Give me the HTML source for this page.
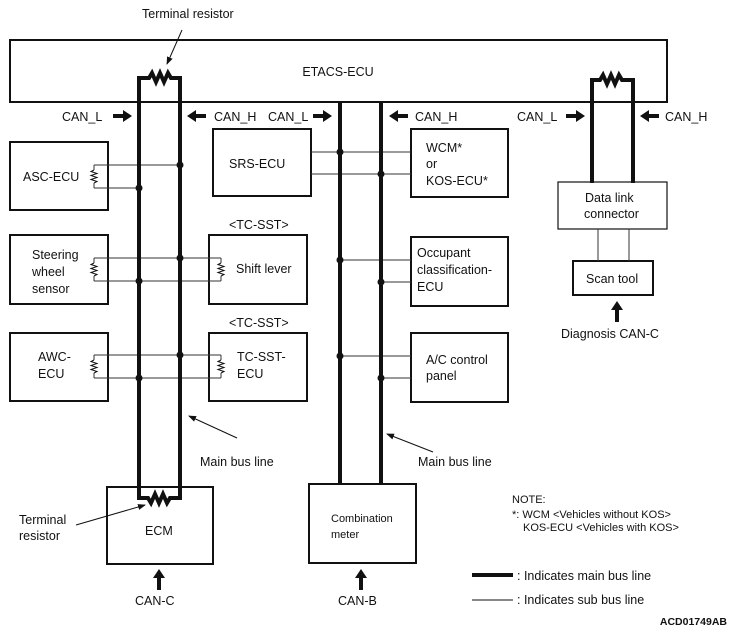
<!DOCTYPE html>
<html><head><style>
body{margin:0;background:#fff}
svg text{font-family:"Liberation Sans",Arial,sans-serif;fill:#111}
</style></head><body>
<svg width="732" height="636" viewBox="0 0 732 636" xmlns="http://www.w3.org/2000/svg">
<defs><marker id="a" markerWidth="8" markerHeight="6" refX="7" refY="3" orient="auto"><path d="M0,0 L8,3 L0,6z" fill="#111"/></marker></defs>
<g fill="none" stroke="#111">
<rect x="10" y="40" width="657" height="62" stroke-width="2"/>
<!-- boxes -->
<g stroke-width="2">
<rect x="10" y="142" width="98" height="68"/>
<rect x="10" y="235" width="98" height="69"/>
<rect x="10" y="333" width="98" height="68"/>
<rect x="209" y="235" width="98" height="69"/>
<rect x="209" y="333" width="98" height="68"/>
<rect x="213" y="129" width="98" height="67"/>
<rect x="411" y="129" width="97" height="68"/>
<rect x="411" y="237" width="97" height="69"/>
<rect x="411" y="333" width="97" height="69"/>
<rect x="107" y="487" width="106" height="77"/>
<rect x="309" y="484" width="107" height="79"/>
<rect x="573" y="261" width="80" height="34"/>
</g>
<rect x="558" y="182" width="109" height="47" stroke-width="1.2"/>
<!-- sub lines -->
<g stroke-width="1" stroke="#333">
<path d="M94,165H180M94,188H139M94,165v5M94,183v5"/>
<path d="M94,258H221M94,281H221M94,258v5M94,276v5M221,258v5M221,276v5"/>
<path d="M94,355H221M94,378H221M94,355v5M94,373v5M221,355v5M221,373v5"/>
<path d="M311,152H411M311,174H411"/>
<path d="M340,260H411M381,282H411M340,356H411M381,378H411"/>
<path d="M598,229V261M629,229V261"/>
</g>
<g stroke-width="1"><path d="M94,170l-3,1.5 6,2 -6,2 6,2 -6,2 6,2 -3,1.5"/>
<path d="M94,263l-3,1.5 6,2 -6,2 6,2 -6,2 6,2 -3,1.5"/>
<path d="M221,263l-3,1.5 6,2 -6,2 6,2 -6,2 6,2 -3,1.5"/>
<path d="M94,360l-3,1.5 6,2 -6,2 6,2 -6,2 6,2 -3,1.5"/>
<path d="M221,360l-3,1.5 6,2 -6,2 6,2 -6,2 6,2 -3,1.5"/></g>
<!-- main buses -->
<g stroke-width="4">
<path d="M139,498V78H149l3,-5 4,9 4,-9 4,9 4,-9 3,5H180V498H170l-3,5 -4,-9 -4,9 -4,-9 -4,9 -3,-5Z"/>
<path d="M340,102V484M381,102V484"/>
<path d="M592,183V80H600l3,-5 4,9 4,-9 4,9 4,-9 3,5H633V183"/>
<path d="M472,575H513"/>
</g>
<path d="M472,600H513" stroke-width="1"/>
<!-- leaders -->
<g stroke-width="1" marker-end="url(#a)">
<path d="M182,30L167,64"/><path d="M237,438L189,416"/><path d="M433,452L387,434"/><path d="M76,525L145,505"/>
</g>
</g>
<g fill="#111">
<circle cx="180" cy="165" r="3.5"/><circle cx="139" cy="188" r="3.5"/>
<circle cx="180" cy="258" r="3.5"/><circle cx="139" cy="281" r="3.5"/>
<circle cx="180" cy="355" r="3.5"/><circle cx="139" cy="378" r="3.5"/>
<circle cx="340" cy="152" r="3.5"/><circle cx="381" cy="174" r="3.5"/>
<circle cx="340" cy="260" r="3.5"/><circle cx="381" cy="282" r="3.5"/>
<circle cx="340" cy="356" r="3.5"/><circle cx="381" cy="378" r="3.5"/>
<!-- CAN arrows -->
<path d="M113,114h10v-4l9,6 -9,6v-4h-10z"/>
<path d="M206,114h-10v-4l-9,6 9,6v-4h10z"/>
<path d="M313,114h10v-4l9,6 -9,6v-4h-10z"/>
<path d="M408,114h-10v-4l-9,6 9,6v-4h10z"/>
<path d="M566,114h10v-4l9,6 -9,6v-4h-10z"/>
<path d="M659,114h-10v-4l-9,6 9,6v-4h10z"/>
<path d="M157,590v-12h-4l6,-9 6,9h-4v12z"/>
<path d="M359,590v-12h-4l6,-9 6,9h-4v12z"/>
<path d="M615,322v-12h-4l6,-9 6,9h-4v12z"/>
</g>
<g font-size="12.5">
<text x="142" y="18">Terminal resistor</text>
<text x="338" y="76" text-anchor="middle">ETACS-ECU</text>
<text x="62" y="121">CAN_L</text><text x="214" y="121">CAN_H</text>
<text x="268" y="121">CAN_L</text><text x="415" y="121">CAN_H</text>
<text x="517" y="121">CAN_L</text><text x="665" y="121">CAN_H</text>
<text x="23" y="181">ASC-ECU</text>
<text x="32" y="259">Steering</text><text x="32" y="276">wheel</text><text x="32" y="293">sensor</text>
<text x="236" y="273">Shift lever</text>
<text x="229" y="229">&lt;TC-SST&gt;</text><text x="229" y="327">&lt;TC-SST&gt;</text>
<text x="38" y="361">AWC-</text><text x="38" y="378">ECU</text>
<text x="237" y="361">TC-SST-</text><text x="237" y="378">ECU</text>
<text x="229" y="168">SRS-ECU</text>
<text x="426" y="152">WCM*</text><text x="426" y="168">or</text><text x="426" y="185">KOS-ECU*</text>
<text x="417" y="257">Occupant</text><text x="417" y="274">classification-</text><text x="417" y="291">ECU</text>
<text x="426" y="364">A/C control</text><text x="426" y="380">panel</text>
<text x="585" y="202">Data link</text><text x="584" y="218">connector</text>
<text x="586" y="283">Scan tool</text>
<text x="561" y="338">Diagnosis CAN-C</text>
<text x="200" y="466">Main bus line</text><text x="418" y="466">Main bus line</text>
<text x="19" y="524">Terminal</text><text x="19" y="540">resistor</text>
<text x="145" y="535">ECM</text>
<text x="135" y="605">CAN-C</text><text x="338" y="605">CAN-B</text>
<text x="517" y="580">: Indicates main bus line</text>
<text x="517" y="604">: Indicates sub bus line</text>
</g>
<g font-size="11">
<text x="331" y="522">Combination</text><text x="331" y="538">meter</text>
<text x="512" y="503">NOTE:</text>
<text x="512" y="518">*: WCM &lt;Vehicles without KOS&gt;</text>
<text x="523" y="531">KOS-ECU &lt;Vehicles with KOS&gt;</text>
<text x="727" y="625" text-anchor="end" font-weight="bold" font-size="10.5">ACD01749AB</text>
</g>
</svg>
</body></html>
